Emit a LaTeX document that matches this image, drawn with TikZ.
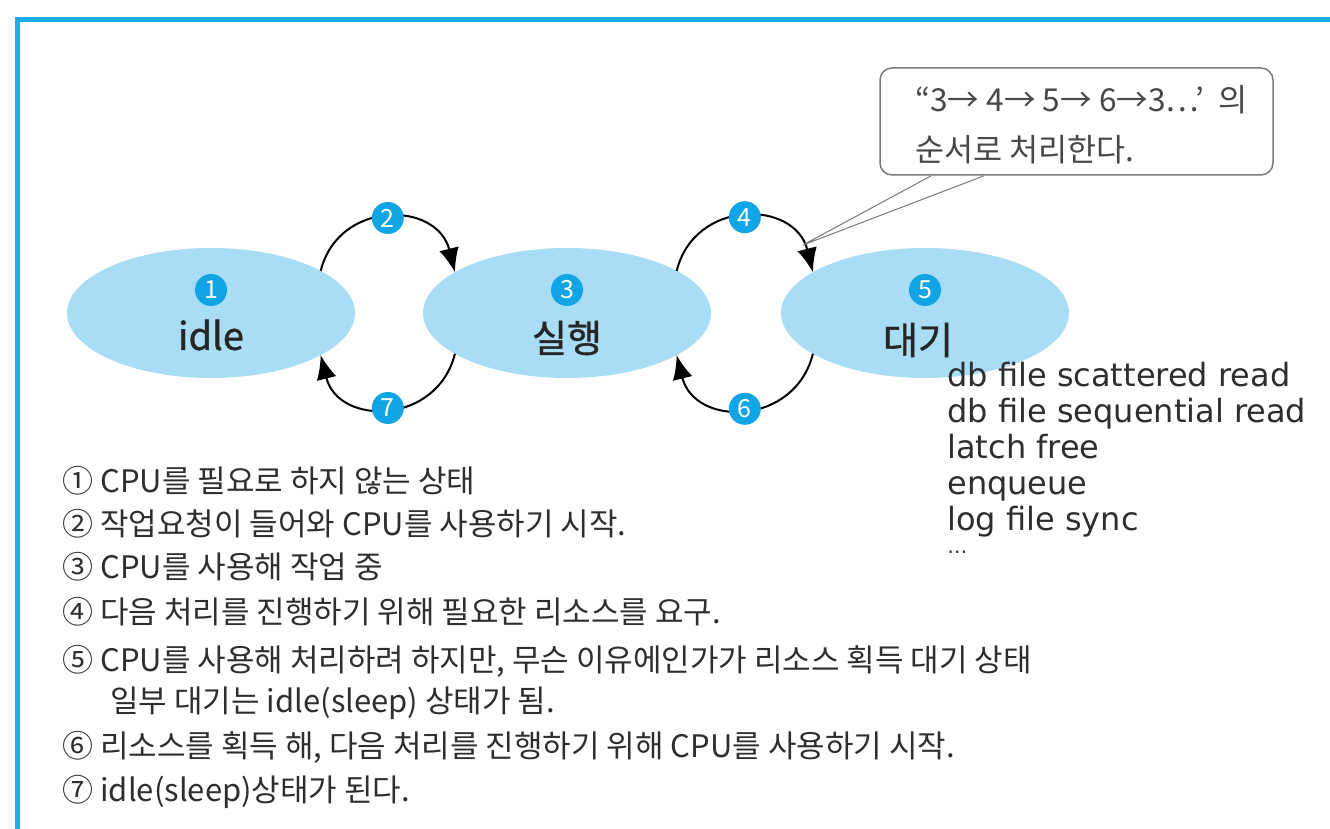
\documentclass[tikz,border=0pt]{standalone}
\usepackage{fontspec}
\newfontfamily\kr{Noto Sans CJK KR}
\newfontfamily\krb[FakeBold=1]{Noto Sans CJK KR}
\newfontfamily\dv{DejaVu Sans}
\usetikzlibrary{arrows.meta,calc,shapes.geometric}
\definecolor{frameblue}{HTML}{1BAEEA}
\definecolor{numblue}{HTML}{12A5E6}
\definecolor{ellblue}{HTML}{A9DDF6}
\definecolor{txtgray}{HTML}{2E2E2E}
\definecolor{boxgray}{HTML}{7A7A7A}
\tikzset{
  state/.style={ellipse, fill=ellblue, draw=none, minimum width=144pt, minimum height=65pt, inner sep=0pt, outer sep=0pt},
  num/.style={circle, fill=numblue, text=white, minimum size=16pt, inner sep=0pt, font=\kr\fontsize{12.5}{12.5}\selectfont},
  stlabel/.style={font=\krb\fontsize{19}{19}\selectfont, text=black!85, inner sep=0pt},
  arc/.style={line width=1pt, -{Latex[length=12pt,width=10pt]}},
  item/.style={anchor=west, inner sep=0pt, text=txtgray, font=\kr\fontsize{15.5}{15.5}\selectfont},
  wlist/.style={anchor=base west, inner sep=0pt, text=txtgray, font=\dv\fontsize{16}{16}\selectfont},
  notetext/.style={anchor=west, inner sep=0pt, text=black!72, font=\kr\fontsize{15.8}{15.8}\selectfont},
}
\begin{document}
\begin{tikzpicture}[x=0.5pt,y=0.5pt]
\useasboundingbox (0,0) rectangle (1330,829);
\fill[white] (0,0) rectangle (1330,829);
% frame
\draw[frameblue, line width=2.5pt] (17,0) -- (17,809) -- (1330,809);

% states
\node[state] (idle) at (211,516) {};
\node[state] (run)  at (567,516) {};
\node[state] (wait) at (925,516) {};
\node[num] (n1) at (211,539) {1};
\node[num] (n3) at (567,539) {3};
\node[num] (n5) at (925,539) {5};
\node[stlabel] (tidle) at (211,494) {idle};
\node[stlabel] (trun)  at (567,491) {실행};
\node[stlabel] (twait) at (918,489) {대기};

% transitions
\draw[arc] (idle.21) to[out=76,in=104,looseness=1.4] node[num,pos=0.5] (n2) {2} (run.160);
\draw[arc] (run.200) to[out=-104,in=-76,looseness=1.4] node[num,pos=0.5] (n7) {7} (idle.-21);
\draw[arc] (run.21) to[out=76,in=104,looseness=1.4] node[num,pos=0.5] (n4) {4} (wait.160);
\draw[arc] (wait.200) to[out=-104,in=-76,looseness=1.4] node[num,pos=0.5] (n6) {6} (run.-21);

% callout
\node[draw=boxgray, line width=0.75pt, rounded corners=6pt, minimum width=196.5pt, minimum height=53.5pt, inner sep=0pt] (note) at (1076.5,707.5) {};
\coordinate (tip) at (803,584);
\draw[boxgray, line width=0.5pt] ($(note.south west)+(52,0)$) -- (tip) -- ($(note.south west)+(105,0)$);
\node[notetext] (nt1) at (915,729) {“3→ 4→ 5→ 6→3…’ \ 의};
\node[notetext] (nt2) at (915,679) {순서로 처리한다.};

% wait events
\node[wlist] (w1) at (947,442) {db file scattered read};
\node[wlist] (w2) at (947,406) {db file sequential read};
\node[wlist] (w3) at (947,370) {latch free};
\node[wlist] (w4) at (947,334) {enqueue};
\node[wlist] (w5) at (947,298) {log file sync};
\node[wlist, font=\dv\fontsize{10}{10}\selectfont] (w6) at (947,270) {⋯};

% explanations
\node[item] (l1) at (62,348) {① CPU를 필요로 하지 않는 상태};
\node[item] (l2) at (62,305) {② 작업요청이 들어와 CPU를 사용하기 시작.};
\node[item] (l3) at (62,262) {③ CPU를 사용해 작업 중};
\node[item] (l4) at (62,217) {④ 다음 처리를 진행하기 위해 필요한 리소스를 요구.};
\node[item] (l5) at (62,168) {⑤ CPU를 사용해 처리하려 하지만, 무슨 이유에인가가 리소스 획득 대기 상태};
\node[item] (l5b) at (110,126) {일부 대기는 idle(sleep) 상태가 됨.};
\node[item] (l6) at (62,82) {⑥ 리소스를 획득 해, 다음 처리를 진행하기 위해 CPU를 사용하기 시작.};
\node[item] (l7) at (62,37) {⑦ idle(sleep)상태가 된다.};
\end{tikzpicture}
\end{document}
